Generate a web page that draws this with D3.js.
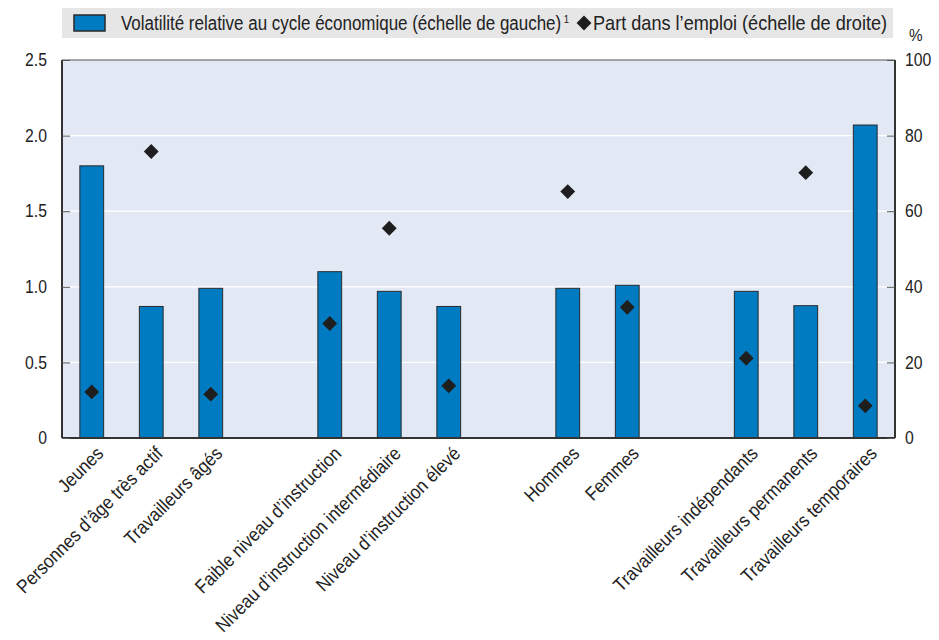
<!DOCTYPE html>
<html>
<head>
<meta charset="utf-8">
<script src="https://cdn.jsdelivr.net/npm/d3@7"></script>
<style>
  body { margin: 0; background: #fff; }
  svg text { font-family: "Liberation Sans", Arial, sans-serif; fill: #222; }
</style>
</head>
<body>
<svg id="chart" width="939" height="640"></svg>
<script>
// categories (empty strings are the gaps between groups)
const categories = [
  "Jeunes", "Personnes d’âge très actif", "Travailleurs âgés", "",
  "Faible niveau d’instruction", "Niveau d’instruction intermédiaire", "Niveau d’instruction élevé", " ",
  "Hommes", "Femmes", "  ",
  "Travailleurs indépendants", "Travailleurs permanents", "Travailleurs temporaires"
];
const volatility = [1.80, 0.87, 0.99, null, 1.10, 0.97, 0.87, null, 0.99, 1.01, null, 0.97, 0.875, 2.07];
const employmentShare = [12.2, 75.8, 11.6, null, 30.3, 55.5, 13.8, null, 65.2, 34.6, null, 21.1, 70.2, 8.5];
const leftTicks = [0, 0.5, 1.0, 1.5, 2.0, 2.5];
const rightTicks = [0, 20, 40, 60, 80, 100];
const legendBar = "Volatilité relative au cycle économique (échelle de gauche)";
const legendDot = "Part dans l’emploi (échelle de droite)";

const svg = d3.select("#chart");
const mLeft = 62, mRight = 895, mTop = 60, mBottom = 438;

const x = d3.scaleBand().domain(categories).range([mLeft, mRight]).paddingInner(0.6).paddingOuter(0.3);
const yL = d3.scaleLinear().domain([0, 2.5]).range([mBottom, mTop]);
const yR = d3.scaleLinear().domain([0, 100]).range([mBottom, mTop]);

// plot background
svg.append("rect").attr("x", mLeft).attr("y", mTop).attr("width", mRight - mLeft).attr("height", mBottom - mTop)
  .attr("fill", "#e2e9f5");

// gridlines
svg.append("g").selectAll("line").data(leftTicks.filter(d => d > 0 && d < 2.5)).enter().append("line")
  .attr("x1", mLeft).attr("x2", mRight).attr("y1", d => yL(d)).attr("y2", d => yL(d))
  .attr("stroke", "#fff").attr("stroke-width", 1.2);

// bars
const cats = categories.map((c, i) => ({c, v: volatility[i], s: employmentShare[i]}));
svg.append("g").selectAll("rect").data(cats.filter(d => d.v != null)).enter().append("rect")
  .attr("x", d => x(d.c)).attr("y", d => yL(d.v))
  .attr("width", x.bandwidth()).attr("height", d => mBottom - yL(d.v))
  .attr("fill", "#007bc2").attr("stroke", "#2a2a2a").attr("stroke-width", 1);

// diamonds
const diamond = d3.symbol().type(d3.symbolSquare).size(110);
svg.append("g").selectAll("path").data(cats.filter(d => d.s != null)).enter().append("path")
  .attr("d", diamond)
  .attr("transform", d => `translate(${x(d.c) + x.bandwidth() / 2},${yR(d.s)}) rotate(45)`)
  .attr("fill", "#1e1e1e");

// frame
svg.append("line").attr("x1", mLeft).attr("x2", mLeft).attr("y1", mTop).attr("y2", mBottom).attr("stroke", "#333").attr("stroke-width", 2);
svg.append("line").attr("x1", mRight).attr("x2", mRight).attr("y1", mTop).attr("y2", mBottom).attr("stroke", "#333").attr("stroke-width", 2);
svg.append("line").attr("x1", mLeft).attr("x2", mRight).attr("y1", mBottom).attr("y2", mBottom).attr("stroke", "#333").attr("stroke-width", 2);
svg.append("line").attr("x1", mLeft).attr("x2", mRight).attr("y1", mTop).attr("y2", mTop).attr("stroke", "#555").attr("stroke-width", 1);

// left axis
const axL = svg.append("g").attr("transform", `translate(${mLeft},0)`)
  .call(d3.axisRight(yL).tickValues(leftTicks).tickSize(8).tickFormat(d => d === 0 ? "0" : d3.format(".1f")(d)));
axL.select(".domain").remove();
axL.selectAll(".tick line").attr("stroke", "#555");
axL.selectAll("text").attr("x", 0).attr("transform", "translate(-15,0) scale(0.9,1)")
  .attr("text-anchor", "end").style("font-size", "17.5px");

// right axis
const axR = svg.append("g").attr("transform", `translate(${mRight},0)`)
  .call(d3.axisLeft(yR).tickValues(rightTicks).tickSize(8));
axR.select(".domain").remove();
axR.selectAll(".tick line").attr("stroke", "#555");
axR.selectAll("text").attr("x", 0).attr("transform", "translate(10,0) scale(0.9,1)")
  .attr("text-anchor", "start").style("font-size", "17.5px");
svg.append("text").attr("transform", "translate(909,41) scale(0.9,1)").style("font-size", "17px").text("%");

// x labels
svg.append("g").selectAll("text").data(categories.filter(c => c.trim() !== "")).enter().append("text")
  .attr("transform", d => `translate(${x(d) + x.bandwidth() / 2 + 8},${mBottom + 12}) rotate(-45) scale(0.9,1)`)
  .attr("text-anchor", "end").attr("dy", "0.35em").style("font-size", "19px").text(d => d);

// legend
svg.append("rect").attr("x", 62).attr("y", 8).attr("width", 831).attr("height", 30).attr("fill", "#e6e6e6");
svg.append("rect").attr("x", 74).attr("y", 15).attr("width", 31).attr("height", 16)
  .attr("fill", "#007bc2").attr("stroke", "#2a2a2a").attr("stroke-width", 1.5);
const lt = svg.append("text").attr("transform", "translate(121,30) scale(0.87,1)").style("font-size", "19.5px");
lt.append("tspan").text(legendBar);
lt.append("tspan").attr("dx", 3).attr("dy", -7).style("font-size", "11px").text("1");
svg.append("path").attr("d", diamond).attr("transform", "translate(584,23) rotate(45)").attr("fill", "#1e1e1e");
svg.append("text").attr("transform", "translate(593,30) scale(0.93,1)").style("font-size", "19.5px").text(legendDot);
</script>
</body>
</html>
